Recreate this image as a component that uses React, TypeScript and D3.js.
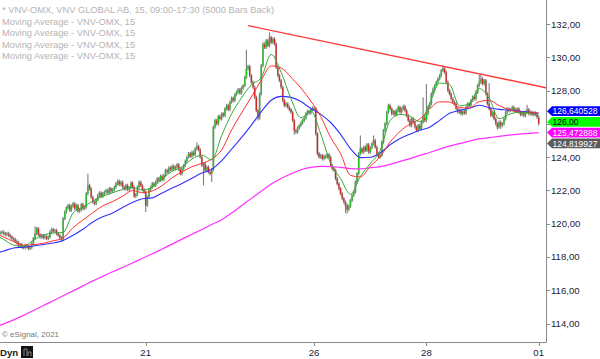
import React from "react";
import * as d3 from "d3";

// ---------- data ----------
const legendTitle = "* VNV-OMX, VNV GLOBAL AB, 15, 09:00-17:30 (5000 Bars Back)";
const legendRows = [
  "Moving Average - VNV-OMX, 15",
  "Moving Average - VNV-OMX, 15",
  "Moving Average - VNV-OMX, 15",
  "Moving Average - VNV-OMX, 15",
];
const dayLabels = ["21", "26", "28", "01"];
const dayNumbers = [3, 6, 8, 10]; // trading-day number counted from Jan 18
const barsPerDay = 34; // 15-min bars 09:00-17:30
const firstBar = 14; // first visible bar (Jan 18, 12:30)
const priceTicks = [114, 116, 118, 120, 122, 124, 126, 128, 130, 132];

// 15-minute closes
const closes = [
  119.45, 119.5, 119.4, 119.35, 119.42, 119.3, 119.2, 119.1, 119.05, 118.95,
  118.85, 118.7, 118.75, 118.6, 118.55, 118.7, 118.62, 118.5, 118.58,
  118.8, 119.1, 119.4, 119.7,
  119.35, 119.2, 119.3, 119.15, 119.25, 119.1, 119.2,
  119.5, 119.65, 119.55, 119.6,
  119.4, 119.3, 119.15, 119.05,
  120.3,
  120.7, 120.95, 121.1, 120.8, 121.05, 121.2, 120.9,
  121.1, 120.75, 120.85, 121.15, 120.9, 121.0,
  121.8, 122.3, 122.1,
  121.6, 121.3, 121.2, 121.45,
  121.7, 121.85, 121.65, 121.8, 121.9,
  122.0, 121.85, 122.1, 121.95, 122.05, 122.2,
  122.4, 122.55, 122.35, 122.5,
  122.2, 122.1, 122.3, 122.05, 122.15,
  122.45, 122.2, 121.65, 121.75, 122.2, 122.5,
  122.3, 122.05, 121.9,
  121.1,
  121.6, 122.05, 122.2, 122.4, 122.3,
  122.5, 122.7, 122.6, 122.85, 122.65, 122.9,
  123.2, 123.1, 123.35, 123.25, 123.45, 123.3,
  123.4, 123.55, 123.25, 123.0, 123.3, 123.5,
  123.75, 124.0, 124.2, 124.05, 124.3, 124.15,
  124.5, 124.65, 124.45,
  124.0, 123.5, 123.6,
  123.2, 123.4, 123.1, 123.0, 123.25,
  125.8,
  126.2, 126.0, 126.45, 126.3, 126.6, 126.5,
  126.9, 127.1, 126.85, 127.3, 127.55, 127.4,
  127.75, 127.9, 128.05, 127.85, 128.15, 128.3,
  128.8, 129.3, 129.45,
  128.9, 128.5, 128.2,
  127.6, 126.8, 126.35,
  127.8, 129.5, 130.8,
  130.6, 131.0, 130.7, 131.2, 130.9, 131.1, 130.8,
  129.4,
  128.9, 128.6, 128.2,
  127.4, 127.1,
  127.2, 127.0, 126.85, 126.7,
  126.2, 125.6, 125.5,
  125.75, 125.9, 126.05, 126.2, 126.35,
  126.6, 126.75, 126.65,
  126.85, 126.95, 126.9,
  125.4, 124.2,
  124.0, 124.1, 123.9, 124.05,
  124.0, 124.15, 124.0,
  123.5, 123.3, 123.2,
  122.7, 122.4, 122.1,
  121.8, 121.5, 121.3,
  121.1, 120.85, 121.05,
  121.4, 121.7, 121.9,
  122.5, 123.0,
  124.2, 124.5, 124.3,
  124.6, 124.4, 124.75, 124.3, 124.55,
  124.8, 125.0, 124.6,
  124.2, 124.0, 124.1,
  124.9, 125.6, 126.0,
  126.7, 127.1, 126.9,
  126.6, 126.75, 126.55,
  126.8, 127.0, 126.7, 126.9, 127.05, 126.8,
  126.5, 126.2, 125.9, 126.3, 126.1, 125.8,
  125.6, 125.9, 125.7,
  126.1, 126.4, 126.2,
  126.6, 127.0, 127.2,
  127.8, 128.1, 128.3,
  128.5, 128.7, 128.9,
  129.2, 129.35, 129.1,
  128.5, 128.0, 127.8,
  127.5, 127.3, 127.2,
  126.9, 126.7, 126.8,
  126.6, 126.75, 126.65,
  127.0, 127.2, 127.1,
  127.4, 127.6, 127.5,
  127.9, 128.3, 128.5,
  128.7, 128.4, 128.6,
  127.8, 127.2, 126.9,
  126.5, 126.7, 126.3,
  126.0, 125.8, 126.1,
  125.9, 126.0, 126.3,
  126.7, 126.9, 126.8,
  126.85, 127.0, 126.85,
  126.75, 126.9, 126.7,
  126.55, 126.65, 126.5,
  126.7, 126.85, 126.6,
  126.7, 126.55, 126.65,
  126.55, 126.4, 126.0,
];

// notable wick extremes: [bar offset, price]
const wickHighs: [number, number][] = [
  [21, 119.85], [53, 123.0], [119, 124.9], [149, 130.45], [163, 131.5],
  [218, 125.3], [226, 125.3], [256, 127.6], [258, 128.4], [268, 129.5],
  [290, 128.95], [291, 128.95], [296, 128.45], [319, 127.15],
];
const wickLows: [number, number][] = [
  [88, 120.7], [123, 122.3], [128, 122.5], [156, 126.2], [178, 125.35],
  [209, 120.65], [210, 120.6], [301, 125.65], [303, 125.7],
];

// moving averages, sampled every 6 bars starting at bar 10
const maFirstBar = 10;
const maStep = 6;
const maFast = [
  119.38, 119.05, 118.71, 118.63, 119.02, 119.32, 119.44, 119.47, 120.64, 120.98,
  121.37, 121.65, 121.86, 122.06, 122.17, 122.02, 122.2, 122.69, 123.15, 123.41,
  123.88, 124.12, 123.83, 125.29, 126.6, 127.56, 128.35, 128.78, 130.17, 129.1,
  127.5, 126.36, 126.79, 125.39, 123.64, 122.71, 121.77, 122.83, 123.62, 124.39,
  126.2, 126.56, 126.46, 126.13, 127.22, 128.45, 128.36, 127.08, 127.22, 128.12,
  127.55, 126.31, 126.57, 126.69, 126.65, 126.51,
];
const maMid = [
  119.44, 119.2, 118.92, 118.71, 118.74, 118.82, 118.97, 119.14, 119.76, 120.22,
  120.66, 121.07, 121.33, 121.65, 121.99, 121.87, 121.97, 122.29, 122.76, 123.11,
  123.42, 123.62, 123.88, 124.43, 125.63, 126.65, 127.61, 128.63, 129.48, 129.36,
  128.8, 128.15, 127.37, 126.44, 125.18, 124.21, 122.9, 122.81, 123.45, 124.03,
  124.9, 125.54, 125.99, 126.29, 126.9, 127.32, 127.31, 126.98, 126.95, 127.34,
  127.41, 127.1, 126.85, 126.71, 126.68, 126.65,
];
const maSlow = [
  118.18, 118.36, 118.54, 118.59, 118.66, 118.75, 118.84, 118.99, 119.3, 119.66,
  120.1, 120.41, 120.64, 120.97, 121.27, 121.5, 121.55, 121.85, 122.14, 122.42,
  122.73, 123.04, 123.27, 123.79, 124.48, 125.17, 125.92, 126.73, 127.42, 127.65,
  127.59, 127.34, 126.92, 126.57, 126.08, 125.37, 124.51, 123.97, 123.99, 124.25,
  124.74, 125.12, 125.38, 125.61, 125.8, 126.21, 126.64, 126.8, 126.94, 127.12,
  126.97, 126.87, 126.83, 126.76, 126.7, 126.64,
];
const maLong = [
  113.75, 113.98, 114.22, 114.49, 114.78, 115.08, 115.37, 115.67, 115.96, 116.26,
  116.56, 116.83, 117.11, 117.37, 117.64, 117.92, 118.19, 118.48, 118.77, 119.07,
  119.36, 119.65, 119.95, 120.24, 120.64, 121.08, 121.52, 121.95, 122.38, 122.72,
  122.99, 123.24, 123.38, 123.44, 123.43, 123.38, 123.31, 123.29, 123.36, 123.43,
  123.56, 123.74, 123.91, 124.1, 124.28, 124.48, 124.66, 124.81, 124.96, 125.1,
  125.17, 125.25, 125.32, 125.38, 125.43, 125.47,
];

// drawn resistance line: [bar, price]
const trendBars = [164, 344.4];
const trendPrices = [131.9, 128.17];

// right-edge value tags
const tagValues = [126.640528, 126.0, 125.472888, 124.819927];
const tagTexts = ["126,640528", "126,00", "125,472888", "124,819927"];
const tagFills = ["#0000ff", "#00ff00", "#ff00ff", "#5a5a5a"];
const tagInk = ["#ffffff", "#000000", "#ffffff", "#ffffff"];

// ---------- chart ----------
const W = 600;
const H = 359;
const AXIS_X = 546;
const AXIS_Y = 342;

export default function App() {
  const x = d3.scaleLinear().domain([3 * barsPerDay, 10 * barsPerDay]).range([145.7, 538.7]);
  const y = d3.scaleLinear().domain([114, 132]).range([323.5, 24]);

  const hiMap = new Map(wickHighs);
  const loMap = new Map(wickLows);
  const pad = 0.1;
  const bars = closes.map((c, i) => {
    const o = i === 0 ? closes[0] : closes[i - 1];
    let hi = Math.max(o, c) + pad;
    let lo = Math.min(o, c) - pad;
    if (hiMap.has(i)) hi = Math.max(hi, hiMap.get(i)!);
    if (loMap.has(i)) lo = Math.min(lo, loMap.get(i)!);
    return { g: firstBar + i, o, c, hi, lo };
  });

  const maLine = (vals: number[]) =>
    d3
      .line<number>()
      .x((_, k) => x(maFirstBar + k * maStep))
      .y((v) => y(v))
      .curve(d3.curveMonotoneX)(vals) || "";

  // value tags: keep them from overlapping, pushing upward from the lowest
  const tagH = 9.8;
  const tagGap = 10.7;
  const order = tagValues.map((v, k) => ({ k, cy: y(v) })).sort((a, b) => b.cy - a.cy);
  for (let j = 1; j < order.length; j++) {
    order[j].cy = Math.min(order[j].cy, order[j - 1].cy - tagGap);
  }
  const tagY: number[] = [];
  order.forEach((o) => (tagY[o.k] = o.cy));
  const tagTop = Math.min(...tagY) - tagH / 2;
  const tagBottom = Math.max(...tagY) + tagH / 2;
  // axis labels hidden behind the tags, as on the original chart
  const coveredByTags = (p: number) => y(p) + 5 > tagTop && y(p) - 5 < tagBottom;

  const fontAxis = "Arial, 'Liberation Sans', sans-serif";
  const axisInk = "#22223a";

  return (
    <svg
      width={W}
      height={H}
      style={{ position: "absolute", left: 0, top: 0, background: "#fff" }}
      fontFamily={fontAxis}
    >
      <defs>
        <clipPath id="plot">
          <rect x={0} y={0} width={AXIS_X} height={AXIS_Y} />
        </clipPath>
      </defs>
      <rect x={0} y={0} width={W} height={H} fill="#fff" />

      {/* legend */}
      <g fontSize={9.3} fill="#b4b4b4">
        <text x={2} y={13}>{legendTitle}</text>
        {legendRows.map((t, k) => (
          <text key={k} x={2} y={25 + k * 11.3}>{t}</text>
        ))}
      </g>

      <g clipPath="url(#plot)">
        {/* candles */}
        {bars.map((b, i) => {
          const cx = x(b.g);
          const up = b.c >= b.o;
          const top = y(Math.max(b.o, b.c));
          const bot = y(Math.min(b.o, b.c));
          return (
            <g key={i}>
              <line x1={cx} x2={cx} y1={y(b.hi)} y2={y(b.lo)} stroke="#7e7e7e" strokeWidth={1.1} />
              <rect
                x={cx - 0.7}
                y={top}
                width={1.4}
                height={Math.max(0.9, bot - top)}
                fill={up ? "#14c814" : "#e01c1c"}
                stroke="#8a8a8a"
                strokeWidth={0.25}
              />
            </g>
          );
        })}

        {/* moving averages */}
        <path d={maLine(maLong)} fill="none" stroke="#ff30ff" strokeWidth={1.2} />
        <path d={maLine(maSlow)} fill="none" stroke="#3232ff" strokeWidth={1.1} />
        <path d={maLine(maMid)} fill="none" stroke="#ff3030" strokeWidth={1} />
        <path d={maLine(maFast)} fill="none" stroke="#38a838" strokeWidth={1} />

        {/* trendline */}
        <line
          x1={x(trendBars[0])}
          y1={y(trendPrices[0])}
          x2={x(trendBars[1])}
          y2={y(trendPrices[1])}
          stroke="#ff3a3a"
          strokeWidth={1.4}
        />
      </g>

      {/* copyright */}
      <text x={2} y={337} fontSize={8} fill="#777">© eSignal, 2021</text>

      {/* axes */}
      <line x1={AXIS_X + 0.5} x2={AXIS_X + 0.5} y1={0} y2={AXIS_Y + 0.5} stroke="#8a8a8a" />
      <line x1={0} x2={AXIS_X + 0.5} y1={AXIS_Y + 0.5} y2={AXIS_Y + 0.5} stroke="#8a8a8a" />
      {priceTicks.map((p) => (
        <g key={p}>
          <line x1={AXIS_X} x2={AXIS_X + 4} y1={Math.round(y(p)) + 0.5} y2={Math.round(y(p)) + 0.5} stroke="#8a8a8a" />
          {!coveredByTags(p) && (
            <text x={AXIS_X + 5} y={y(p) + 3.5} fontSize={9.6} fill={axisInk}>
              {p.toFixed(2).replace(".", ",")}
            </text>
          )}
        </g>
      ))}
      {dayLabels.map((d, k) => {
        const tx = x(dayNumbers[k] * barsPerDay);
        return (
          <g key={d}>
            <line x1={Math.round(tx) + 0.5} x2={Math.round(tx) + 0.5} y1={AXIS_Y} y2={AXIS_Y + 4} stroke="#8a8a8a" />
            <text x={tx} y={356} fontSize={9.6} fill={axisInk} textAnchor="middle">{d}</text>
          </g>
        );
      })}

      {/* value tags */}
      {tagValues.map((v, k) => {
        const cy = tagY[k];
        const h = tagH;
        const path = `M${AXIS_X + 1},${cy} L${AXIS_X + 6},${cy - h / 2} L${W},${cy - h / 2} L${W},${cy + h / 2} L${AXIS_X + 6},${cy + h / 2} Z`;
        return (
          <g key={k}>
            <path d={path} fill={tagFills[k]} />
            <text x={AXIS_X + 6.5} y={cy + 3.1} fontSize={8.5} fill={tagInk[k]}>{tagTexts[k]}</text>
          </g>
        );
      })}

      {/* bottom-left control */}
      <text x={0} y={356} fontSize={9.6} fill="#222" fontWeight="bold">Dyn</text>
      <rect x={21} y={346} width={12} height={12} fill="#111" />
      <path d="M24,356 L24,349 L27,349 L27,356 M28,356 L28,352 L31,352 L31,356" fill="none" stroke="#888" strokeWidth={1} />
    </svg>
  );
}
